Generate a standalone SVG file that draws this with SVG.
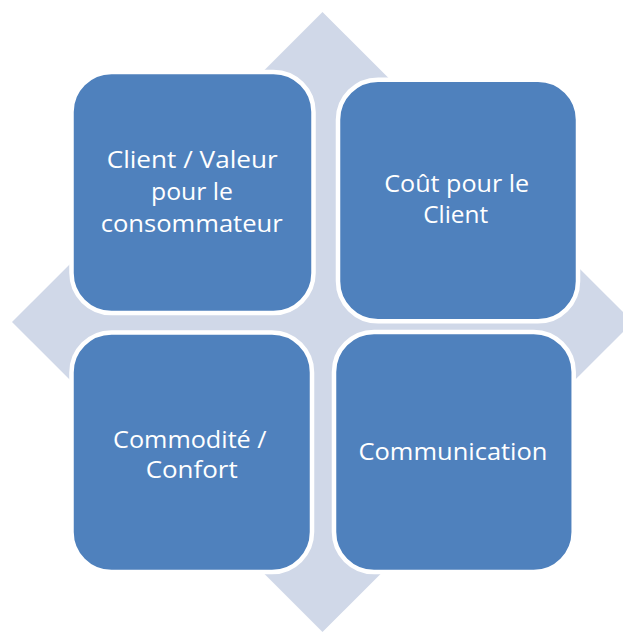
<svg xmlns="http://www.w3.org/2000/svg" width="623" height="633" viewBox="0 0 623 633">
<style>
.bg{fill:#ffffff}
.dia{fill:#d0d8e8}
.box{fill:#4f81bd;stroke:#ffffff;stroke-width:4.5}
.t{font-family:"Open Sans","Noto Sans","Liberation Sans",sans-serif;font-size:23.5px;fill:#ffffff;text-anchor:middle}
</style>
<rect class="bg" x="0" y="0" width="623" height="633"/>
<g id="background-diamond">
<polygon class="dia" points="322.5,12 633,322 322.5,632 12,322"/>
</g>
<g id="connectors"></g>
<g id="node-client">
<rect class="box" x="71.5" y="72" width="242" height="241" rx="40"/>
<text class="t" x="192.2" y="168.3" textLength="171" lengthAdjust="spacingAndGlyphs">Client / Valeur</text>
<text class="t" x="192" y="200.3" textLength="82" lengthAdjust="spacingAndGlyphs">pour le</text>
<text class="t" x="191.7" y="231.7" textLength="182" lengthAdjust="spacingAndGlyphs">consommateur</text>
</g>
<g id="node-cout">
<rect class="box" x="338" y="79.7" width="240" height="241.6" rx="40"/>
<text class="t" x="456.7" y="192.3" textLength="145" lengthAdjust="spacingAndGlyphs">Coût pour le</text>
<text class="t" x="455.7" y="223.3" textLength="65" lengthAdjust="spacingAndGlyphs">Client</text>
</g>
<g id="node-commodite">
<rect class="box" x="71.5" y="332.5" width="240.5" height="239.5" rx="40"/>
<text class="t" x="189.8" y="448.3" textLength="153.5" lengthAdjust="spacingAndGlyphs">Commodité /</text>
<text class="t" x="191.7" y="477.7" textLength="92" lengthAdjust="spacingAndGlyphs">Confort</text>
</g>
<g id="node-communication">
<rect class="box" x="334" y="332" width="239.7" height="240" rx="40"/>
<text class="t" x="453" y="460" textLength="189" lengthAdjust="spacingAndGlyphs">Communication</text>
</g>
</svg>
